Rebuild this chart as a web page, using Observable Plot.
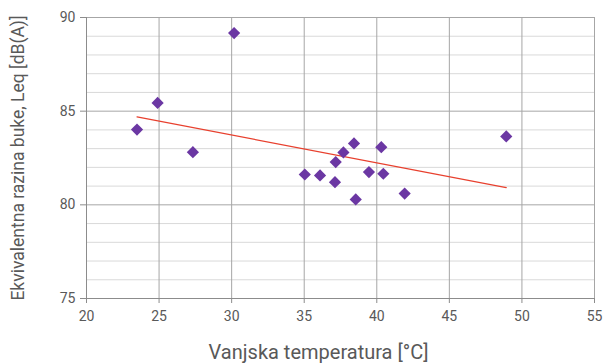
<!DOCTYPE html>
<html><head><meta charset="utf-8">
<script src="https://cdn.jsdelivr.net/npm/d3@7"></script>
<script src="https://cdn.jsdelivr.net/npm/@observablehq/plot@0.6"></script>
<style>body{margin:0;background:#fff} svg{display:block}</style>
</head><body><div id="chart"></div>
<script>
const temperature = [23.48, 24.90, 27.33, 30.17, 35.04, 36.09, 37.12, 37.17, 37.70, 38.43, 38.55, 39.46, 40.31, 40.45, 41.92, 48.92];
const leq         = [84.02, 85.44, 82.81, 89.17, 81.62, 81.57, 81.21, 82.28, 82.80, 83.28, 80.29, 81.75, 83.08, 81.66, 80.60, 83.65];
const xTicks = [20, 25, 30, 35, 40, 45, 50, 55];
const yTicks = [75, 80, 85, 90];
const yMinorGrid = [76, 77, 78, 79, 81, 82, 83, 84, 86, 87, 88, 89];
const xLabel = "Vanjska temperatura [°C]";
const yLabel = "Ekvivalentna razina buke, Leq [dB(A)]";

const data = temperature.map((t, i) => ({t, l: leq[i]}));
const font = "Roboto, 'Open Sans', sans-serif";
const textColor = "#595959";

const chart = Plot.plot({
  width: 604,
  height: 363,
  marginLeft: 86,
  marginRight: 10,
  marginTop: 17,
  marginBottom: 65,
  style: {fontFamily: font, background: "#fff"},
  x: {domain: [20, 55]},
  y: {domain: [75, 90]},
  marks: [
    Plot.ruleY(yMinorGrid, {stroke: "#d9d9d9", strokeWidth: 1}),
    Plot.ruleY(yTicks.slice(1), {stroke: "#a6a6a6", strokeWidth: 1}),
    Plot.ruleX(xTicks.slice(1), {stroke: "#a6a6a6", strokeWidth: 1}),
    Plot.ruleX([20], {stroke: "#8c8c8c", strokeWidth: 1}),
    Plot.ruleY([75], {stroke: "#8c8c8c", strokeWidth: 1}),
    Plot.axisY({ticks: yTicks, tickSize: 6, tickPadding: 5, fontSize: 14, color: textColor, stroke: "#8c8c8c", label: null}),
    Plot.axisX({ticks: xTicks, tickSize: 5, tickPadding: 8, fontSize: 14, color: textColor, stroke: "#8c8c8c", label: null}),
    Plot.linearRegressionY(data, {x: "t", y: "l", ci: 0, stroke: "#e8402e", strokeWidth: 1.2}),
    Plot.dot(data, {x: "t", y: "l", symbol: "diamond2", r: 5.5, fill: "#6b37a3", stroke: "none"}),
    Plot.text([xLabel], {frameAnchor: "bottom", dy: 54, dx: -22, textAnchor: "middle", lineAnchor: "middle", fontSize: 20, fill: textColor}),
    Plot.text([yLabel], {frameAnchor: "left", dx: -68.5, rotate: -90, textAnchor: "middle", lineAnchor: "middle", fontSize: 17.5, fill: textColor})
  ]
});
document.getElementById("chart").append(chart);
</script>
</body></html>
